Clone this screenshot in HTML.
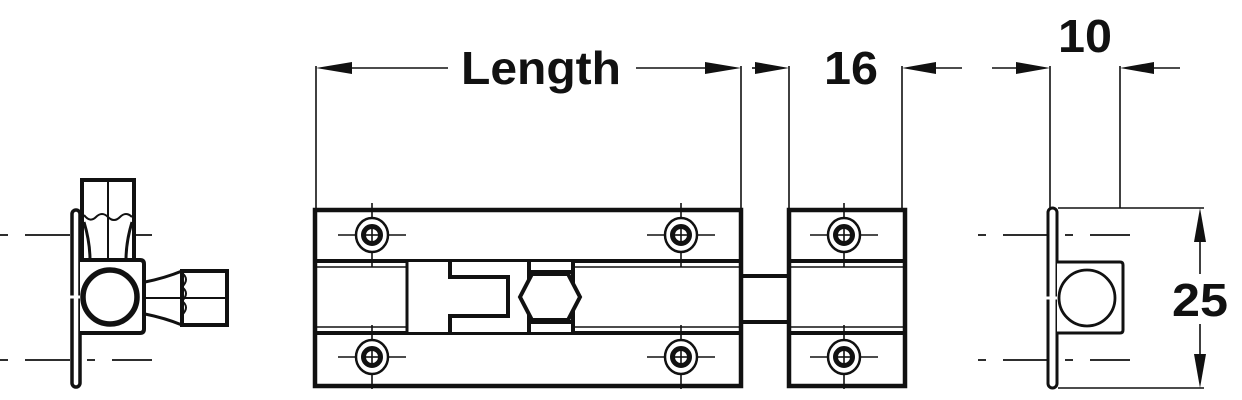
<!DOCTYPE html>
<html><head><meta charset="utf-8"><style>
html,body{margin:0;padding:0;background:#fff;width:1242px;height:400px;overflow:hidden}
text{font-family:"Liberation Sans",sans-serif;font-weight:bold;fill:#111}
</style></head><body>
<svg width="1242" height="400" viewBox="0 0 1242 400" xmlns="http://www.w3.org/2000/svg">
<defs>
<g id="screw">
 <line x1="-34" y1="0" x2="34" y2="0" stroke="#111" stroke-width="1.6"/>
 <line x1="0" y1="-32" x2="0" y2="32" stroke="#111" stroke-width="1.6"/>
 <ellipse cx="0" cy="0" rx="16" ry="17" fill="#fff" stroke="#111" stroke-width="2.5"/>
 <circle cx="0" cy="0" r="8.5" fill="none" stroke="#111" stroke-width="5"/>
 <line x1="-6" y1="0" x2="6" y2="0" stroke="#111" stroke-width="1.6"/>
 <line x1="0" y1="-6" x2="0" y2="6" stroke="#111" stroke-width="1.6"/>
</g>
</defs>
<g stroke="#111" fill="none">
<!-- extension lines -->
<g stroke-width="1.6">
<line x1="316" y1="66" x2="316" y2="208"/>
<line x1="741" y1="66" x2="741" y2="208"/>
<line x1="789" y1="66" x2="789" y2="208"/>
<line x1="902" y1="66" x2="902" y2="208"/>
<line x1="1050" y1="66" x2="1050" y2="208"/>
<line x1="1120" y1="66" x2="1120" y2="208"/>
<line x1="352" y1="68" x2="448" y2="68"/>
<line x1="636" y1="68" x2="705" y2="68"/>
<line x1="752" y1="68" x2="760" y2="68"/>
<line x1="930" y1="68" x2="962" y2="68"/>
<line x1="992" y1="68" x2="1020" y2="68"/>
<line x1="1148" y1="68" x2="1180" y2="68"/>
<!-- 25 dim -->
<line x1="1058" y1="208" x2="1204" y2="208"/>
<line x1="1058" y1="388" x2="1204" y2="388"/>
<line x1="1200" y1="240" x2="1200" y2="274"/>
<line x1="1200" y1="324" x2="1200" y2="356"/>
</g>
</g>
<g fill="#111">
<polygon points="316,68 352,62 352,74"/>
<polygon points="741,68 705,62 705,74"/>
<polygon points="789,68 755,62 755,74"/>
<polygon points="902,68 936,62 936,74"/>
<polygon points="1050,68 1016,62 1016,74"/>
<polygon points="1120,68 1154,62 1154,74"/>
<polygon points="1200,208 1194,242 1206,242"/>
<polygon points="1200,388 1194,354 1206,354"/>
</g>
<text x="541" y="84" font-size="46" text-anchor="middle" textLength="160" lengthAdjust="spacingAndGlyphs">Length</text>
<text x="851" y="84" font-size="46" text-anchor="middle" textLength="54" lengthAdjust="spacingAndGlyphs">16</text>
<text x="1085" y="52" font-size="46" text-anchor="middle" textLength="54" lengthAdjust="spacingAndGlyphs">10</text>
<text x="1200" y="316" font-size="46" text-anchor="middle" textLength="56" lengthAdjust="spacingAndGlyphs">25</text>

<!-- main bolt body -->
<g stroke="#111" fill="none">
<rect x="315" y="210" width="426" height="176" stroke-width="4.5" fill="#fff"/>
<line x1="315" y1="261" x2="741" y2="261" stroke-width="4"/>
<line x1="315" y1="267" x2="741" y2="267" stroke-width="1.6"/>
<line x1="315" y1="327" x2="741" y2="327" stroke-width="1.6"/>
<line x1="315" y1="333" x2="741" y2="333" stroke-width="4"/>
<rect x="407" y="261" width="166" height="72" fill="#fff" stroke-width="2"/>
<line x1="407" y1="261" x2="407" y2="333" stroke-width="3"/>
<path d="M450,333 V316 H508 V277 H450 V261" stroke-width="4" fill="#fff"/>
<line x1="529" y1="261" x2="529" y2="333" stroke-width="4"/>
<line x1="573" y1="261" x2="573" y2="333" stroke-width="4"/>
<line x1="529" y1="272" x2="573" y2="272" stroke-width="4"/>
<line x1="529" y1="322" x2="573" y2="322" stroke-width="4"/>
<polygon points="520,297 532,274 568,274 580,297 568,320 532,320" fill="#fff" stroke-width="4"/>
<!-- bolt extension -->
<line x1="741" y1="276" x2="789" y2="276" stroke-width="4"/>
<line x1="741" y1="322" x2="789" y2="322" stroke-width="4"/>
<!-- keeper -->
<rect x="789" y="210" width="116" height="176" stroke-width="4.5" fill="#fff"/>
<line x1="789" y1="261" x2="905" y2="261" stroke-width="4"/>
<line x1="789" y1="267" x2="905" y2="267" stroke-width="1.6"/>
<line x1="789" y1="327" x2="905" y2="327" stroke-width="1.6"/>
<line x1="789" y1="333" x2="905" y2="333" stroke-width="4"/>
</g>
<use href="#screw" x="372" y="235"/>
<use href="#screw" x="681" y="235"/>
<use href="#screw" x="844" y="235"/>
<use href="#screw" x="372" y="357"/>
<use href="#screw" x="681" y="357"/>
<use href="#screw" x="844" y="357"/>

<!-- left side view -->
<g stroke="#111" fill="none">
<g stroke-width="1.8" stroke-dasharray="8 17 45 17">
<line x1="0" y1="235" x2="152" y2="235"/>
<line x1="0" y1="360" x2="152" y2="360"/>
</g>
<rect x="82" y="180" width="52" height="80" fill="#fff" stroke-width="4"/>
<line x1="108" y1="180" x2="108" y2="260" stroke-width="2"/>
<path d="M84,215 q6,8 12,2 q6,-6 12,0 q6,6 12,0 q6,-6 12,0" stroke-width="2"/>
<path d="M84,222 q6,20 6,38 M132,222 q-6,20 -6,38" stroke-width="3"/>
<rect x="72" y="210" width="8" height="177" rx="4" fill="#fff" stroke-width="3.5"/>
<line x1="70" y1="297" x2="82" y2="297" stroke="#fff" stroke-width="3"/>
<path d="M80,260 H140 q4,0 4,4 V329 q0,4 -4,4 H80" fill="#fff" stroke-width="4"/>
<circle cx="110" cy="297" r="27" fill="#fff" stroke-width="5.5"/>
<path d="M145,282 Q165,278 182,271 M145,314 Q165,318 182,325" stroke-width="3"/>
<rect x="182" y="271" width="45" height="54" fill="#fff" stroke-width="4"/>
<line x1="145" y1="298" x2="227" y2="298" stroke-width="2"/>
<path d="M182,273 q8,6 0,14 q8,6 0,14 q8,6 0,14" stroke-width="2"/>
</g>

<!-- right side view -->
<g stroke="#111" fill="none">
<g stroke-width="1.8" stroke-dasharray="8 17 45 17">
<line x1="978" y1="235" x2="1130" y2="235"/>
<line x1="978" y1="360" x2="1130" y2="360"/>
</g>
<rect x="1048" y="208" width="9" height="180" rx="4.5" fill="#fff" stroke-width="3"/>
<line x1="1046" y1="298" x2="1060" y2="298" stroke="#fff" stroke-width="3"/>
<path d="M1057,262 H1120 q3,0 3,3 V330 q0,3 -3,3 H1057" fill="#fff" stroke-width="3"/>
<circle cx="1087" cy="298" r="28" fill="#fff" stroke-width="2.8"/>
</g>
</svg>
</body></html>
